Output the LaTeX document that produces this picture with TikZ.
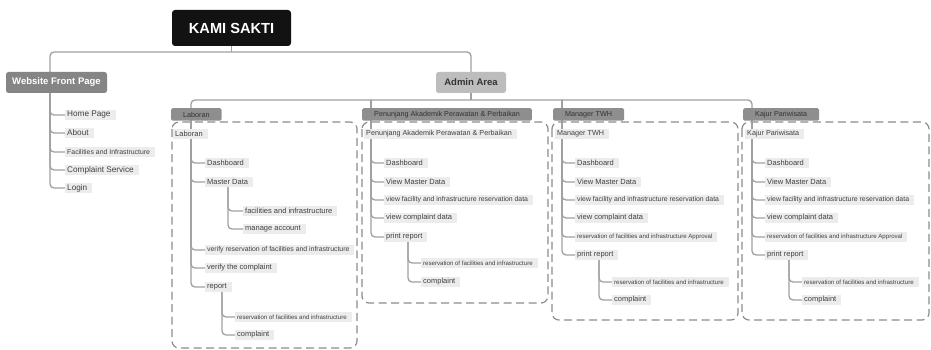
\documentclass[tikz,border=0pt]{standalone}
\usepackage{fontspec}
\setmainfont{Liberation Sans}
\usetikzlibrary{backgrounds}
\definecolor{linec}{HTML}{A0A0A0}
\definecolor{dashc}{HTML}{8C8C8C}
\definecolor{itembg}{HTML}{ECECEC}
\definecolor{itemtx}{HTML}{404040}
\definecolor{labfill}{HTML}{8E8E8E}
\definecolor{labtx}{HTML}{333333}
\definecolor{webfill}{HTML}{858585}
\definecolor{adminfill}{HTML}{BDBDBD}
\begin{document}
\begin{tikzpicture}[x=1pt,y=-1pt,
  conn/.style={draw=linec, line width=1.3pt, rounded corners=4pt},
  leaf/.style={anchor=west, fill=itembg, text=itemtx, inner xsep=2pt, inner ysep=0pt,
    minimum height=10.5pt, font=\fontsize{7.5}{8}\selectfont,
    execute at end node={\hspace{3pt}}},
  fsmall/.style={font=\fontsize{6.1}{7}\selectfont},
  fmid/.style={font=\fontsize{6.9}{8}\selectfont},
  fbig/.style={font=\fontsize{8.2}{9}\selectfont},
  sectlab/.style={anchor=west, fill=labfill, text=labtx, rounded corners=1.5pt,
    inner xsep=12pt, inner ysep=0pt, minimum height=12.5pt, font=\fontsize{7.2}{8}\selectfont},
  dashbox/.style={draw=dashc, line width=1.2pt, dash pattern=on 8pt off 4.5pt, rounded corners=7pt}
]
\useasboundingbox (0,0) rectangle (931,350);

% top level
\node[fill=black!93, text=white, rounded corners=3pt, minimum width=119pt, minimum height=36pt,
  inner sep=0pt, font=\fontsize{14.6}{16}\selectfont\bfseries] (kami) at (231.5,28) {KAMI SAKTI};
\node[fill=webfill, text=white, rounded corners=2.5pt, minimum width=101pt, minimum height=21pt,
  inner sep=0pt, font=\fontsize{9.5}{11}\selectfont\bfseries] (web) at (56.5,82.5) {Website Front Page};
\node[fill=adminfill, text=labtx, rounded corners=2.5pt, minimum width=70pt, minimum height=21pt,
  inner sep=0pt, font=\fontsize{9.5}{11}\selectfont\bfseries] (admin) at (471,82.5) {Admin Area};

\coordinate (kh) at (231.5,52);
\coordinate (wtop) at (50,72);
\coordinate (ah) at (471,100);

% website items
\node[leaf,fbig] (w1) at (65,115) {Home Page};
\node[leaf,fbig] (w2) at (65,133) {About};
\node[leaf,fmid] (w3) at (65,152) {Facilities and Infrastructure};
\node[leaf,fbig] (w4) at (65,170) {Complaint Service};
\node[leaf,fbig] (w5) at (65,188) {Login};

% section labels
\node[sectlab] (sa) at (171,114.5) {Laboran};
\node[sectlab] (sb) at (362,114.5) {Penunjang Akademik Perawatan \& Perbaikan};
\node[sectlab] (sc) at (553,114.5) {Manager TWH};
\node[sectlab] (sd) at (743,114.5) {Kajur Pariwisata};

\coordinate (r1) at (191,109);
\coordinate (r2) at (371,100);
\coordinate (r3) at (562,100);
\coordinate (r4) at (752,109);

% Laboran
\node[leaf] (a0) at (173,134) {Laboran};
\node[leaf] (a1) at (205,163) {Dashboard};
\node[leaf] (a2) at (205,182) {Master Data};
\node[leaf] (a3) at (243,211) {facilities and infrastructure};
\node[leaf] (a4) at (243,229) {manage account};
\node[leaf,fmid] (a5) at (205,250) {verify reservation of facilities and infrastructure};
\node[leaf] (a6) at (205,268) {verify the complaint};
\node[leaf] (a7) at (205,287) {report};
\node[leaf,fsmall] (a8) at (235,317) {reservation of facilities and infrastructure};
\node[leaf] (a9) at (235,335) {complaint};
\coordinate (sa1) at (228,187);
\coordinate (sa2) at (222,292);

% Penunjang
\node[leaf,font=\fontsize{7.2}{8}\selectfont] (b0) at (364,134) {Penunjang Akademik Perawatan \& Perbaikan};
\node[leaf] (b1) at (384,163) {Dashboard};
\node[leaf] (b2) at (384,182) {View Master Data};
\node[leaf,fmid] (b3) at (384,200) {view facility and infrastructure reservation data};
\node[leaf] (b4) at (384,218) {view complaint data};
\node[leaf] (b5) at (384,237) {print report};
\node[leaf,fsmall] (b6) at (421,263) {reservation of facilities and infrastructure};
\node[leaf] (b7) at (421,282) {complaint};
\coordinate (sb1) at (408,242);

% Manager TWH
\node[leaf,font=\fontsize{7.2}{8}\selectfont] (c0) at (555,134) {Manager TWH};
\node[leaf] (c1) at (575,163) {Dashboard};
\node[leaf] (c2) at (575,182) {View Master Data};
\node[leaf,fmid] (c3) at (575,200) {view facility and infrastructure reservation data};
\node[leaf] (c4) at (575,218) {view complaint data};
\node[leaf,fsmall] (c5) at (575,237) {reservation of facilities and infrastructure Approval};
\node[leaf] (c6) at (575,255) {print report};
\node[leaf,fsmall] (c7) at (612,282) {reservation of facilities and infrastructure};
\node[leaf] (c8) at (612,300) {complaint};
\coordinate (sc1) at (599,260);

% Kajur Pariwisata
\node[leaf,font=\fontsize{7.2}{8}\selectfont] (d0) at (745,134) {Kajur Pariwisata};
\node[leaf] (d1) at (765,163) {Dashboard};
\node[leaf] (d2) at (765,182) {View Master Data};
\node[leaf,fmid] (d3) at (765,200) {view facility and infrastructure reservation data};
\node[leaf] (d4) at (765,218) {view complaint data};
\node[leaf,fsmall] (d5) at (765,237) {reservation of facilities and infrastructure Approval};
\node[leaf] (d6) at (765,255) {print report};
\node[leaf,fsmall] (d7) at (802,282) {reservation of facilities and infrastructure};
\node[leaf] (d8) at (802,300) {complaint};
\coordinate (sd1) at (789,260);

\begin{pgfonlayer}{background}
  \draw[dashbox] (172,122) rectangle (357,348);
  \draw[dashbox] (362,122) rectangle (548,303);
  \draw[dashbox] (552,122) rectangle (738,320);
  \draw[dashbox] (742,122) rectangle (929,320);

  \draw[conn] (kami.south) -- (kh);
  \draw[conn] (admin.north) |- (kh) -| (wtop);
  \foreach \n in {w1,w2,w3,w4,w5} \draw[conn] (wtop) |- (\n.west);

  \draw[conn] (admin.south) -- (ah);
  \draw[conn] (r1) |- (ah) -| (r4);

  \foreach \n in {a1,a2,a5,a6,a7} \draw[conn] (r1) |- (\n.west);
  \foreach \n in {a3,a4} \draw[conn] (sa1) |- (\n.west);
  \foreach \n in {a8,a9} \draw[conn] (sa2) |- (\n.west);

  \foreach \n in {b1,b2,b3,b4,b5} \draw[conn] (r2) |- (\n.west);
  \foreach \n in {b6,b7} \draw[conn] (sb1) |- (\n.west);

  \foreach \n in {c1,c2,c3,c4,c5,c6} \draw[conn] (r3) |- (\n.west);
  \foreach \n in {c7,c8} \draw[conn] (sc1) |- (\n.west);

  \foreach \n in {d1,d2,d3,d4,d5,d6} \draw[conn] (r4) |- (\n.west);
  \foreach \n in {d7,d8} \draw[conn] (sd1) |- (\n.west);
\end{pgfonlayer}
\end{tikzpicture}
\end{document}
